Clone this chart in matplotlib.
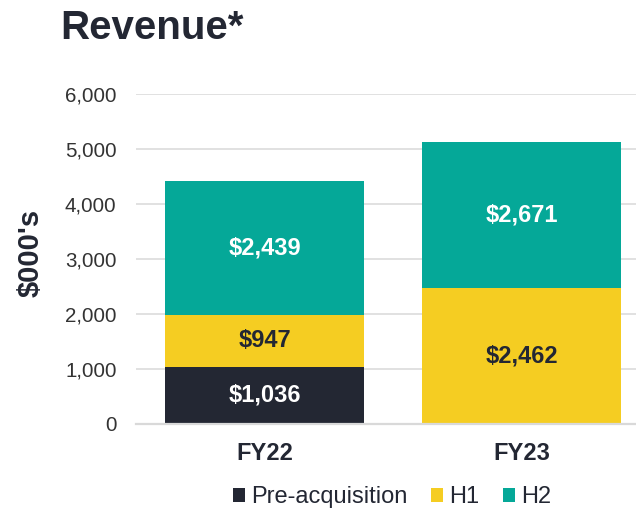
import matplotlib
matplotlib.use("Agg")
import matplotlib.pyplot as plt
from matplotlib.patches import Patch
import numpy as np

plt.rcParams['font.family'] = ['Liberation Sans', 'DejaVu Sans']

categories = ["FY22", "FY23"]
series_names = ["Pre-acquisition", "H1", "H2"]
pre_acq = [1036, 0]
h1 = [947, 2462]
h2 = [2439, 2671]
yticks = [0, 1000, 2000, 3000, 4000, 5000, 6000]

colors = {"Pre-acquisition": "#232733", "H1": "#F5CD22", "H2": "#05A898"}
label_colors = {"Pre-acquisition": "white", "H1": "#232733", "H2": "white"}
dark = "#232733"

fig = plt.figure(figsize=(6.36, 5.12), dpi=100)
ax = fig.add_axes([136/636, 1-423.5/512, 500/636, 329.5/512])

x = np.arange(len(categories))
width = 0.773
bottom = np.zeros(len(categories))
for name, vals in zip(series_names, [pre_acq, h1, h2]):
    vals = np.array(vals, dtype=float)
    ax.bar(x, vals, width, bottom=bottom, color=colors[name], zorder=3, label=name)
    for xi, v, b in zip(x, vals, bottom):
        if v > 0:
            ax.text(xi, b + v/2, f"${v:,.0f}", ha='center', va='center',
                    fontsize=17, fontweight='bold', color=label_colors[name], zorder=4)
    bottom += vals

ax.set_xlim(-0.499, 1.443)
ax.set_ylim(0, 6000)
ax.set_yticks(yticks)
ax.set_yticklabels([f"{t:,}" for t in yticks])
ax.set_xticks(x)
ax.set_xticklabels(categories, fontweight='bold', fontsize=17, color=dark)
ax.tick_params(axis='y', length=0, pad=14, labelsize=14.8, labelcolor='#333333')
ax.tick_params(axis='x', length=0, pad=13)
ax.grid(axis='y', color='#D9D9D9', linewidth=1.1, zorder=0)
ax.set_axisbelow(True)
for s in ['top', 'right', 'left']:
    ax.spines[s].set_visible(False)
ax.spines['bottom'].set_color('#D9D9D9')
ax.spines['bottom'].set_linewidth(1.6)
ax.spines['bottom'].set_zorder(5)

fig.text(31/636, 1-253/512, "$000's", rotation=90, ha='center', va='center',
         fontsize=21, fontweight='bold', color=dark)

fig.text(60/636, 1-39/512, "Revenue*", ha='left', va='baseline',
         fontsize=29, fontweight='bold', color=dark)

handles = [Patch(facecolor=colors[n], edgecolor='none', label=n) for n in series_names]
fig.legend(handles=handles, loc='center', bbox_to_anchor=(392/636, 1-497/512), ncol=3,
           frameon=False, fontsize=17, handlelength=0.52, handleheight=0.52,
           handletextpad=0.25, columnspacing=1.0, labelcolor=dark, borderpad=0)

fig.savefig("out.png", dpi=100)
